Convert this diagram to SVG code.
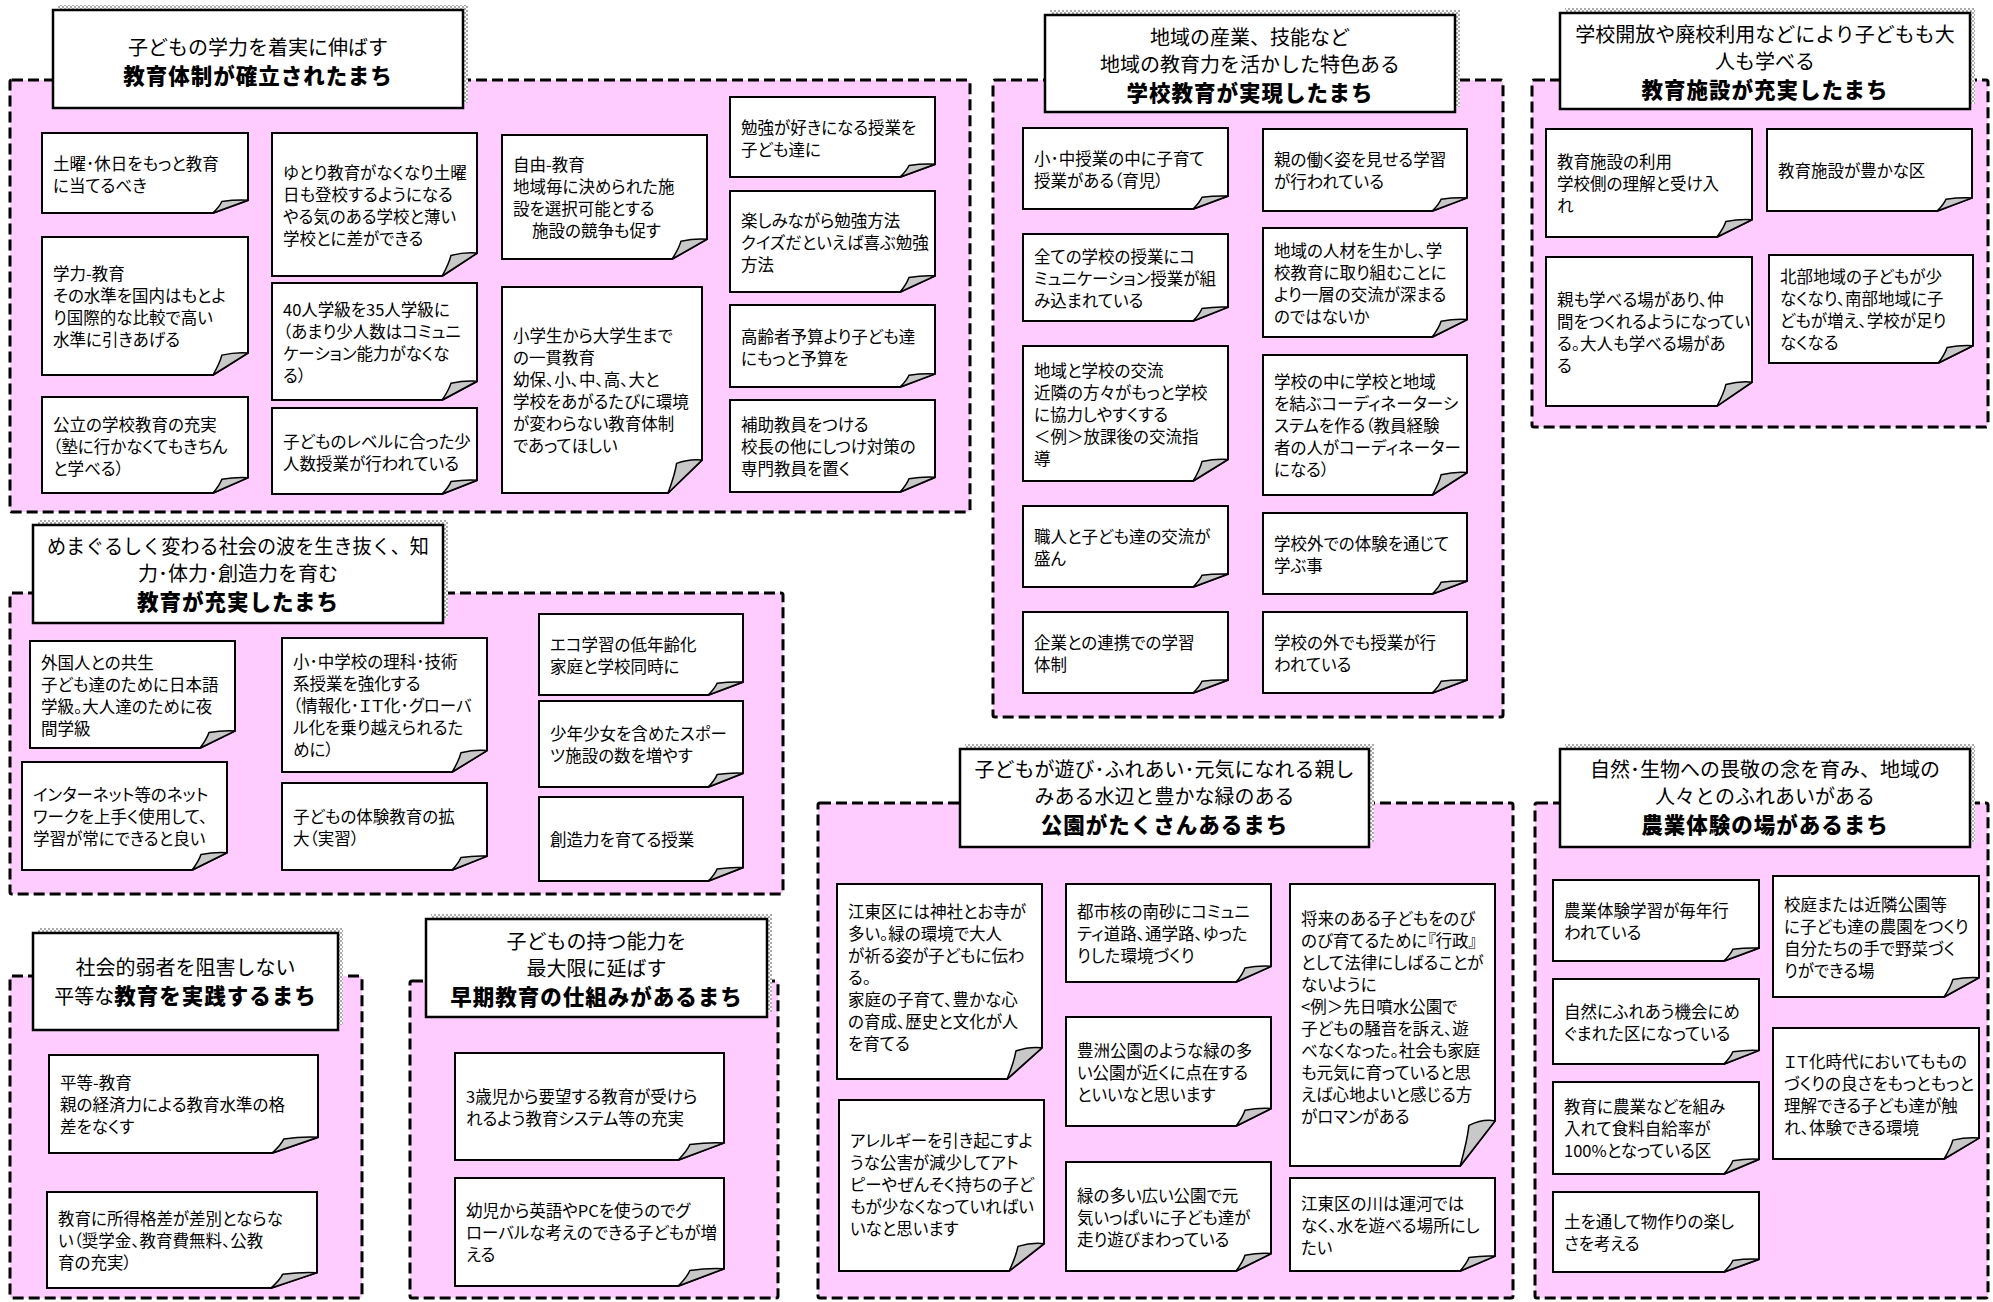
<svg xmlns="http://www.w3.org/2000/svg" xmlns:xlink="http://www.w3.org/1999/xlink" width="1993" height="1302" viewBox="0 0 1993 1302">
<style>
.grp{fill:#FFCCFF;stroke:#000;stroke-width:3;stroke-dasharray:11 5}
.ttl{fill:#fff;stroke:#000;stroke-width:2.5}
.shd{fill:url(#hatch)}
.nb{fill:#fff;stroke:#000;stroke-width:2;stroke-linejoin:miter}
.fl{fill:#c8c8c8;stroke:#000;stroke-width:1.5;stroke-linejoin:round}
.t{font-family:"Noto Sans CJK JP","Noto Sans CJK SC",sans-serif;font-size:16.5px;font-feature-settings:"palt";fill:#000}
.h{font-family:"Noto Sans CJK JP","Noto Sans CJK SC",sans-serif;font-size:20px;text-anchor:middle;fill:#000}
.hb{font-size:21.5px;font-weight:900;letter-spacing:1px}
</style>
<defs>
<pattern id="hatch" width="4" height="4" patternUnits="userSpaceOnUse"><rect width="4" height="4" fill="#fff"/><rect width="2" height="2" fill="#aaa"/><rect x="2" y="2" width="2" height="2" fill="#aaa"/></pattern>
<symbol id="nt" viewBox="0 0 100 100" preserveAspectRatio="none" style="overflow:visible">
<path class="nb" vector-effect="non-scaling-stroke" d="M0,0 H100 V84 L83,100 H0 Z"/>
<path class="fl" vector-effect="non-scaling-stroke" d="M83,100 Q86.4,91.2 87.3,85.6 Q94,83.2 100,84 Z"/>
</symbol>
</defs>
<rect width="1993" height="1302" fill="#fff"/>

<g id="groups">
<rect id="g1" class="grp" x="10" y="80" width="960" height="432" rx="2"/>
<rect id="g2" class="grp" x="10" y="593" width="773" height="301" rx="2"/>
<rect id="g3" class="grp" x="993" y="80" width="510" height="637" rx="2"/>
<rect id="g4" class="grp" x="1532" y="80" width="456" height="347" rx="2"/>
<rect id="g5" class="grp" x="10" y="976" width="352" height="322" rx="2"/>
<rect id="g6" class="grp" x="410" y="981" width="368" height="317" rx="2"/>
<rect id="g7" class="grp" x="818" y="803" width="695" height="495" rx="2"/>
<rect id="g8" class="grp" x="1535" y="803" width="453" height="495" rx="2"/>
</g>

<g id="connectors"></g>

<g id="title1"><rect class="shd" x="58" y="5" width="410" height="98"/><rect class="ttl" x="53" y="10" width="410" height="98"/>
<text class="h"><tspan x="258" y="55">子どもの学力を着実に伸ばす</tspan><tspan class="hb" x="258" y="84">教育体制が確立されたまち</tspan></text></g>
<g id="title2"><rect class="shd" x="38" y="520" width="410" height="98"/><rect class="ttl" x="33" y="525" width="410" height="98"/>
<text class="h"><tspan x="238" y="554" textLength="382" lengthAdjust="spacingAndGlyphs">めまぐるしく変わる社会の波を生き抜く、知</tspan><tspan x="238" y="581">力･体力･創造力を育む</tspan><tspan class="hb" x="238" y="610">教育が充実したまち</tspan></text></g>
<g id="title3"><rect class="shd" x="1050" y="10" width="410" height="97"/><rect class="ttl" x="1045" y="15" width="410" height="97"/>
<text class="h"><tspan x="1250" y="45">地域の産業、技能など</tspan><tspan x="1250" y="72">地域の教育力を活かした特色ある</tspan><tspan class="hb" x="1250" y="101">学校教育が実現したまち</tspan></text></g>
<g id="title4"><rect class="shd" x="1565" y="8" width="410" height="96"/><rect class="ttl" x="1560" y="13" width="410" height="96"/>
<text class="h"><tspan x="1765" y="42">学校開放や廃校利用などにより子どもも大</tspan><tspan x="1765" y="69">人も学べる</tspan><tspan class="hb" x="1765" y="98">教育施設が充実したまち</tspan></text></g>
<g id="title5"><rect class="shd" x="38" y="928" width="305" height="97"/><rect class="ttl" x="33" y="933" width="305" height="97"/>
<text class="h"><tspan x="185.5" y="975">社会的弱者を阻害しない</tspan><tspan x="185.5" y="1004">平等な<tspan class="hb">教育を実践するまち</tspan></tspan></text></g>
<g id="title6"><rect class="shd" x="431" y="914" width="341" height="98"/><rect class="ttl" x="426" y="919" width="341" height="98"/>
<text class="h"><tspan x="596.5" y="949">子どもの持つ能力を</tspan><tspan x="596.5" y="976">最大限に延ばす</tspan><tspan class="hb" x="596.5" y="1005">早期教育の仕組みがあるまち</tspan></text></g>
<g id="title7"><rect class="shd" x="965" y="744" width="409" height="98"/><rect class="ttl" x="960" y="749" width="409" height="98"/>
<text class="h"><tspan x="1164.5" y="777">子どもが遊び･ふれあい･元気になれる親し</tspan><tspan x="1164.5" y="804">みある水辺と豊かな緑のある</tspan><tspan class="hb" x="1164.5" y="833">公園がたくさんあるまち</tspan></text></g>
<g id="title8"><rect class="shd" x="1565" y="744" width="410" height="98"/><rect class="ttl" x="1560" y="749" width="410" height="98"/>
<text class="h"><tspan x="1765" y="777">自然･生物への畏敬の念を育み、地域の</tspan><tspan x="1765" y="804">人々とのふれあいがある</tspan><tspan class="hb" x="1765" y="833">農業体験の場があるまち</tspan></text></g>

<g id="n1a"><use href="#nt" x="42" y="133" width="206" height="80"/><text class="t"><tspan x="53" y="170">土曜･休日をもっと教育</tspan><tspan x="53" y="192">に当てるべき</tspan></text></g>
<g id="n1b"><use href="#nt" x="42" y="237" width="206" height="138"/><text class="t"><tspan x="53" y="280">学力-教育</tspan><tspan x="53" y="302">その水準を国内はもとよ</tspan><tspan x="53" y="324">り国際的な比較で高い</tspan><tspan x="53" y="346">水準に引きあげる</tspan></text></g>
<g id="n1c"><use href="#nt" x="42" y="397" width="206" height="96"/><text class="t"><tspan x="53" y="431">公立の学校教育の充実</tspan><tspan x="53" y="453">（塾に行かなくてもきちん</tspan><tspan x="53" y="475">と学べる）</tspan></text></g>
<g id="n2a"><use href="#nt" x="272" y="133" width="205" height="143"/><text class="t"><tspan x="283" y="178.5">ゆとり教育がなくなり土曜</tspan><tspan x="283" y="200.5">日も登校するようになる</tspan><tspan x="283" y="222.5">やる気のある学校と薄い</tspan><tspan x="283" y="244.5">学校とに差ができる</tspan></text></g>
<g id="n2b"><use href="#nt" x="272" y="283" width="205" height="117"/><text class="t"><tspan x="283" y="315.5">40人学級を35人学級に</tspan><tspan x="283" y="337.5">（あまり少人数はコミュニ</tspan><tspan x="283" y="359.5">ケーション能力がなくな</tspan><tspan x="283" y="381.5">る）</tspan></text></g>
<g id="n2c"><use href="#nt" x="272" y="408" width="205" height="86"/><text class="t"><tspan x="283" y="448">子どものレベルに合った少</tspan><tspan x="283" y="470">人数授業が行われている</tspan></text></g>
<g id="n3a"><use href="#nt" x="502" y="135" width="205" height="124"/><text class="t"><tspan x="513" y="171">自由-教育</tspan><tspan x="513" y="193">地域毎に決められた施</tspan><tspan x="513" y="215">設を選択可能とする</tspan><tspan x="532" y="237">施設の競争も促す</tspan></text></g>
<g id="n3b"><use href="#nt" x="502" y="287" width="200" height="206"/><text class="t"><tspan x="513" y="342">小学生から大学生まで</tspan><tspan x="513" y="364">の一貫教育</tspan><tspan x="513" y="386">幼保、小、中、高、大と</tspan><tspan x="513" y="408">学校をあがるたびに環境</tspan><tspan x="513" y="430">が変わらない教育体制</tspan><tspan x="513" y="452">であってほしい</tspan></text></g>
<g id="n4a"><use href="#nt" x="730" y="97" width="205" height="80"/><text class="t"><tspan x="741" y="134">勉強が好きになる授業を</tspan><tspan x="741" y="156">子ども達に</tspan></text></g>
<g id="n4b"><use href="#nt" x="730" y="191" width="205" height="101"/><text class="t"><tspan x="741" y="226.5">楽しみながら勉強方法</tspan><tspan x="741" y="248.5">クイズだといえば喜ぶ勉強</tspan><tspan x="741" y="270.5">方法</tspan></text></g>
<g id="n4c"><use href="#nt" x="730" y="305" width="205" height="82"/><text class="t"><tspan x="741" y="343">高齢者予算より子ども達</tspan><tspan x="741" y="365">にもっと予算を</tspan></text></g>
<g id="n4d"><use href="#nt" x="730" y="400" width="205" height="92"/><text class="t"><tspan x="741" y="431">補助教員をつける</tspan><tspan x="741" y="453">校長の他にしつけ対策の</tspan><tspan x="741" y="475">専門教員を置く</tspan></text></g>

<g id="g2n1"><use href="#nt" x="30" y="641" width="205" height="107"/><text class="t"><tspan x="41" y="668.5">外国人との共生</tspan><tspan x="41" y="690.5">子ども達のために日本語</tspan><tspan x="41" y="712.5">学級。大人達のために夜</tspan><tspan x="41" y="734.5">間学級</tspan></text></g>
<g id="g2n2"><use href="#nt" x="22" y="762" width="205" height="108"/><text class="t"><tspan x="33" y="801">インターネット等のネット</tspan><tspan x="33" y="823">ワークを上手く使用して、</tspan><tspan x="33" y="845">学習が常にできると良い</tspan></text></g>
<g id="g2n3"><use href="#nt" x="282" y="638" width="205" height="134"/><text class="t"><tspan x="293" y="668">小･中学校の理科･技術</tspan><tspan x="293" y="690">系授業を強化する</tspan><tspan x="293" y="712">（情報化･ＩＴ化･グローバ</tspan><tspan x="293" y="734">ル化を乗り越えられるた</tspan><tspan x="293" y="756">めに）</tspan></text></g>
<g id="g2n4"><use href="#nt" x="282" y="783" width="205" height="87"/><text class="t"><tspan x="293" y="822.5">子どもの体験教育の拡</tspan><tspan x="293" y="844.5">大（実習）</tspan></text></g>
<g id="g2n5"><use href="#nt" x="539" y="614" width="204" height="81"/><text class="t"><tspan x="550" y="650.5">エコ学習の低年齢化</tspan><tspan x="550" y="672.5">家庭と学校同時に</tspan></text></g>
<g id="g2n6"><use href="#nt" x="539" y="701" width="204" height="86"/><text class="t"><tspan x="550" y="740">少年少女を含めたスポー</tspan><tspan x="550" y="762">ツ施設の数を増やす</tspan></text></g>
<g id="g2n7"><use href="#nt" x="539" y="797" width="204" height="84"/><text class="t"><tspan x="550" y="846">創造力を育てる授業</tspan></text></g>

<g id="g3n1"><use href="#nt" x="1023" y="128" width="205" height="81"/><text class="t"><tspan x="1034" y="165">小･中授業の中に子育て</tspan><tspan x="1034" y="187">授業がある（育児）</tspan></text></g>
<g id="g3n2"><use href="#nt" x="1263" y="129" width="204" height="82"/><text class="t"><tspan x="1274" y="166">親の働く姿を見せる学習</tspan><tspan x="1274" y="188">が行われている</tspan></text></g>
<g id="g3n3"><use href="#nt" x="1023" y="234" width="205" height="87"/><text class="t"><tspan x="1034" y="262.5">全ての学校の授業にコ</tspan><tspan x="1034" y="284.5">ミュニケーション授業が組</tspan><tspan x="1034" y="306.5">み込まれている</tspan></text></g>
<g id="g3n4"><use href="#nt" x="1263" y="228" width="204" height="109"/><text class="t"><tspan x="1274" y="256.5">地域の人材を生かし、学</tspan><tspan x="1274" y="278.5">校教育に取り組むことに</tspan><tspan x="1274" y="300.5">より一層の交流が深まる</tspan><tspan x="1274" y="322.5">のではないか</tspan></text></g>
<g id="g3n5"><use href="#nt" x="1023" y="346" width="205" height="135"/><text class="t"><tspan x="1034" y="376.5">地域と学校の交流</tspan><tspan x="1034" y="398.5">近隣の方々がもっと学校</tspan><tspan x="1034" y="420.5">に協力しやすくする</tspan><tspan x="1034" y="442.5">＜例＞放課後の交流指</tspan><tspan x="1034" y="464.5">導</tspan></text></g>
<g id="g3n6"><use href="#nt" x="1263" y="355" width="204" height="140"/><text class="t"><tspan x="1274" y="388">学校の中に学校と地域</tspan><tspan x="1274" y="410">を結ぶコーディネーターシ</tspan><tspan x="1274" y="432">ステムを作る（教員経験</tspan><tspan x="1274" y="454">者の人がコーディネーター</tspan><tspan x="1274" y="476">になる）</tspan></text></g>
<g id="g3n7"><use href="#nt" x="1023" y="506" width="205" height="81"/><text class="t"><tspan x="1034" y="542.5">職人と子ども達の交流が</tspan><tspan x="1034" y="564.5">盛ん</tspan></text></g>
<g id="g3n8"><use href="#nt" x="1263" y="513" width="204" height="81"/><text class="t"><tspan x="1274" y="549.5">学校外での体験を通じて</tspan><tspan x="1274" y="571.5">学ぶ事</tspan></text></g>
<g id="g3n9"><use href="#nt" x="1023" y="612" width="205" height="81"/><text class="t"><tspan x="1034" y="648.5">企業との連携での学習</tspan><tspan x="1034" y="670.5">体制</tspan></text></g>
<g id="g3n10"><use href="#nt" x="1263" y="612" width="204" height="81"/><text class="t"><tspan x="1274" y="648.5">学校の外でも授業が行</tspan><tspan x="1274" y="670.5">われている</tspan></text></g>

<g id="g4n1"><use href="#nt" x="1546" y="129" width="206" height="108"/><text class="t"><tspan x="1557" y="168">教育施設の利用</tspan><tspan x="1557" y="190">学校側の理解と受け入</tspan><tspan x="1557" y="212">れ</tspan></text></g>
<g id="g4n2"><use href="#nt" x="1767" y="129" width="205" height="82"/><text class="t"><tspan x="1778" y="177">教育施設が豊かな区</tspan></text></g>
<g id="g4n3"><use href="#nt" x="1546" y="257" width="206" height="149"/><text class="t"><tspan x="1557" y="305.5">親も学べる場があり、仲</tspan><tspan x="1557" y="327.5">間をつくれるようになってい</tspan><tspan x="1557" y="349.5">る。大人も学べる場があ</tspan><tspan x="1557" y="371.5">る</tspan></text></g>
<g id="g4n4"><use href="#nt" x="1769" y="255" width="204" height="108"/><text class="t"><tspan x="1780" y="283">北部地域の子どもが少</tspan><tspan x="1780" y="305">なくなり、南部地域に子</tspan><tspan x="1780" y="327">どもが増え、学校が足り</tspan><tspan x="1780" y="349">なくなる</tspan></text></g>

<g id="g5n1"><use href="#nt" x="49" y="1055" width="269" height="98"/><text class="t"><tspan x="60" y="1089">平等-教育</tspan><tspan x="60" y="1111">親の経済力による教育水準の格</tspan><tspan x="60" y="1133">差をなくす</tspan></text></g>
<g id="g5n2"><use href="#nt" x="47" y="1192" width="270" height="96"/><text class="t"><tspan x="58" y="1225">教育に所得格差が差別とならな</tspan><tspan x="58" y="1247">い（奨学金、教育費無料、公教</tspan><tspan x="58" y="1269">育の充実）</tspan></text></g>

<g id="g6n1"><use href="#nt" x="455" y="1053" width="269" height="107"/><text class="t"><tspan x="466" y="1102.5">3歳児から要望する教育が受けら</tspan><tspan x="466" y="1124.5">れるよう教育システム等の充実</tspan></text></g>
<g id="g6n2"><use href="#nt" x="455" y="1178" width="269" height="108"/><text class="t"><tspan x="466" y="1217">幼児から英語やPCを使うのでグ</tspan><tspan x="466" y="1239">ローバルな考えのできる子どもが増</tspan><tspan x="466" y="1261">える</tspan></text></g>

<g id="g7n1"><use href="#nt" x="837" y="884" width="205" height="195"/><text class="t"><tspan x="848" y="918">江東区には神社とお寺が</tspan><tspan x="848" y="940">多い。緑の環境で大人</tspan><tspan x="848" y="962">が祈る姿が子どもに伝わ</tspan><tspan x="848" y="984">る。</tspan><tspan x="848" y="1006">家庭の子育て、豊かな心</tspan><tspan x="848" y="1028">の育成、歴史と文化が人</tspan><tspan x="848" y="1050">を育てる</tspan></text></g>
<g id="g7n2"><use href="#nt" x="839" y="1100" width="205" height="171"/><text class="t"><tspan x="850" y="1146.5">アレルギーを引き起こすよ</tspan><tspan x="850" y="1168.5">うな公害が減少してアト</tspan><tspan x="850" y="1190.5">ピーやぜんそく持ちの子ど</tspan><tspan x="850" y="1212.5">もが少なくなっていればい</tspan><tspan x="850" y="1234.5">いなと思います</tspan></text></g>
<g id="g7n3"><use href="#nt" x="1066" y="884" width="205" height="98"/><text class="t"><tspan x="1077" y="918">都市核の南砂にコミュニ</tspan><tspan x="1077" y="940">ティ道路、通学路、ゆった</tspan><tspan x="1077" y="962">りした環境づくり</tspan></text></g>
<g id="g7n4"><use href="#nt" x="1066" y="1017" width="205" height="109"/><text class="t"><tspan x="1077" y="1056.5">豊洲公園のような緑の多</tspan><tspan x="1077" y="1078.5">い公園が近くに点在する</tspan><tspan x="1077" y="1100.5">といいなと思います</tspan></text></g>
<g id="g7n5"><use href="#nt" x="1066" y="1162" width="205" height="109"/><text class="t"><tspan x="1077" y="1201.5">緑の多い広い公園で元</tspan><tspan x="1077" y="1223.5">気いっぱいに子ども達が</tspan><tspan x="1077" y="1245.5">走り遊びまわっている</tspan></text></g>
<g id="g7n6"><use href="#nt" x="1290" y="884" width="205" height="282"/><text class="t"><tspan x="1301" y="925">将来のある子どもをのび</tspan><tspan x="1301" y="947">のび育てるために『行政』</tspan><tspan x="1301" y="969">として法律にしばることが</tspan><tspan x="1301" y="991">ないように</tspan><tspan x="1301" y="1013">&lt;例＞先日噴水公園で</tspan><tspan x="1301" y="1035">子どもの騒音を訴え、遊</tspan><tspan x="1301" y="1057">べなくなった。社会も家庭</tspan><tspan x="1301" y="1079">も元気に育っていると思</tspan><tspan x="1301" y="1101">えば心地よいと感じる方</tspan><tspan x="1301" y="1123">がロマンがある</tspan></text></g>
<g id="g7n7"><use href="#nt" x="1290" y="1178" width="205" height="93"/><text class="t"><tspan x="1301" y="1209.5">江東区の川は運河では</tspan><tspan x="1301" y="1231.5">なく、水を遊べる場所にし</tspan><tspan x="1301" y="1253.5">たい</tspan></text></g>

<g id="g8n1"><use href="#nt" x="1553" y="880" width="206" height="81"/><text class="t"><tspan x="1564" y="916.5">農業体験学習が毎年行</tspan><tspan x="1564" y="938.5">われている</tspan></text></g>
<g id="g8n2"><use href="#nt" x="1553" y="979" width="206" height="85"/><text class="t"><tspan x="1564" y="1017.5">自然にふれあう機会にめ</tspan><tspan x="1564" y="1039.5">ぐまれた区になっている</tspan></text></g>
<g id="g8n3"><use href="#nt" x="1553" y="1082" width="206" height="92"/><text class="t"><tspan x="1564" y="1113">教育に農業などを組み</tspan><tspan x="1564" y="1135">入れて食料自給率が</tspan><tspan x="1564" y="1157">100%となっている区</tspan></text></g>
<g id="g8n4"><use href="#nt" x="1553" y="1192" width="206" height="80"/><text class="t"><tspan x="1564" y="1228">土を通して物作りの楽し</tspan><tspan x="1564" y="1250">さを考える</tspan></text></g>
<g id="g8n5"><use href="#nt" x="1773" y="876" width="206" height="121"/><text class="t"><tspan x="1784" y="910.5">校庭または近隣公園等</tspan><tspan x="1784" y="932.5">に子ども達の農園をつくり</tspan><tspan x="1784" y="954.5">自分たちの手で野菜づく</tspan><tspan x="1784" y="976.5">りができる場</tspan></text></g>
<g id="g8n6"><use href="#nt" x="1773" y="1028" width="206" height="131"/><text class="t"><tspan x="1784" y="1067.5">ＩＴ化時代においてももの</tspan><tspan x="1784" y="1089.5">づくりの良さをもっともっと</tspan><tspan x="1784" y="1111.5">理解できる子ども達が触</tspan><tspan x="1784" y="1133.5">れ、体験できる環境</tspan></text></g>
</svg>
